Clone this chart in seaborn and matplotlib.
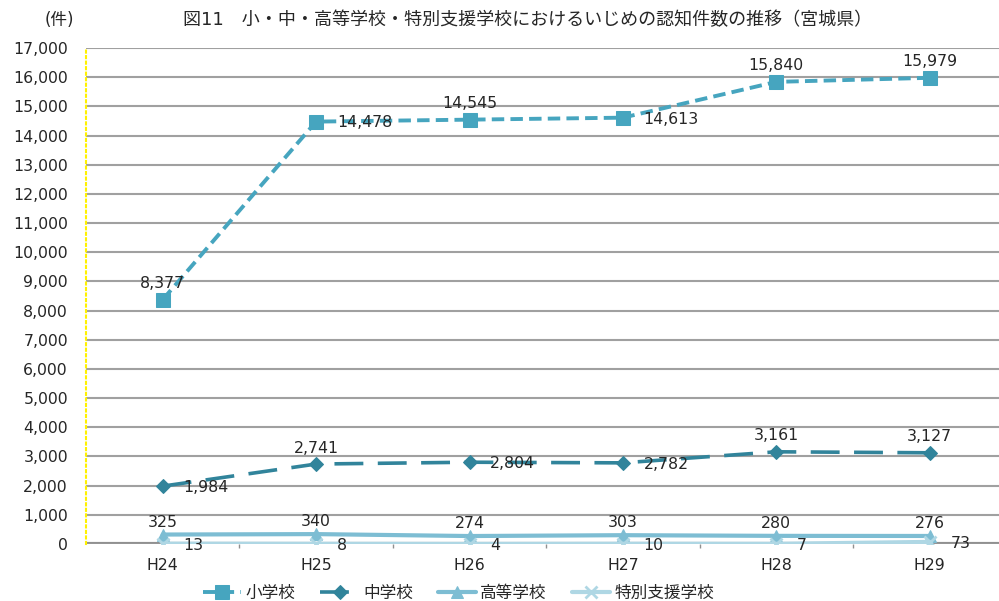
import matplotlib
matplotlib.use("Agg")
import matplotlib.pyplot as plt
import seaborn as sns
import pandas as pd
from matplotlib.ticker import FuncFormatter, MultipleLocator

# data
years = ["H24", "H25", "H26", "H27", "H28", "H29"]
elementary = [8377, 14478, 14545, 14613, 15840, 15979]
junior_high = [1984, 2741, 2804, 2782, 3161, 3127]
high_school = [325, 340, 274, 303, 280, 276]
special_support = [13, 8, 4, 10, 7, 73]

series_names = ["小学校", "中学校", "高等学校", "特別支援学校"]
series_values = [elementary, junior_high, high_school, special_support]

# label placement per series / point ('a' = above, 'r' = right)
label_pos = [
    ["a", "r", "a", "r", "a", "a"],
    ["r", "a", "r", "r", "a", "a"],
    ["a", "a", "a", "a", "a", "a"],
    ["r", "r", "r", "r", "r", "r"],
]
above_offset = [11.5, 11.5, 9, 9]

styles = {
    "小学校": dict(color="#46A5BF", marker="s", markersize=10, linewidth=2.8,
                  linestyle=(0, (3.2, 1.6))),
    "中学校": dict(color="#31849B", marker="D", markersize=7, linewidth=2.6,
                  linestyle=(0, (8, 4))),
    "高等学校": dict(color="#7DBDD3", marker="^", markersize=9, linewidth=3.0,
                    linestyle="-"),
    "特別支援学校": dict(color="#AFD7E4", marker="x", markersize=9, linewidth=3.0,
                      linestyle="-", markeredgewidth=2),
}

sns.set_style("white")
plt.rcParams["font.family"] = ["DejaVu Sans", "Noto Sans CJK JP"]

fig = plt.figure(figsize=(9.99, 6.01), dpi=100)
ax = fig.add_axes([0.0861, 0.0948, 0.9213, 0.8253])

x_idx = list(range(len(years)))
handles = []
for k, (name, vals, pos) in enumerate(zip(series_names, series_values, label_pos)):
    df = pd.DataFrame({"year": x_idx, "count": vals})
    st = styles[name]
    sns.lineplot(data=df, x="year", y="count", ax=ax, markeredgecolor=st["color"],
                 zorder=3, **st)
    handles.append(ax.lines[-1])
    for xi, v, p in zip(x_idx, vals, pos):
        if p == "a":
            ax.annotate(f"{v:,}", (xi, v), xytext=(0, above_offset[k]),
                        textcoords="offset points", ha="center", va="center",
                        fontsize=11.3, color="#262626", zorder=5)
        else:
            ax.annotate(f"{v:,}", (xi, v), xytext=(15, -1), textcoords="offset points",
                        ha="left", va="center", fontsize=11.3, color="#262626",
                        zorder=5)

ax.set_xlim(-0.5, len(years) - 0.5)
ax.set_ylim(0, 17000)
ax.set_xticks(x_idx)
ax.set_xticklabels(years)
ax.set_xticks([i + 0.5 for i in x_idx[:-1]], minor=True)
ax.yaxis.set_major_locator(MultipleLocator(1000))
ax.yaxis.set_major_formatter(FuncFormatter(lambda v, _: f"{int(v):,}"))
ax.set_xlabel("")
ax.set_ylabel("")

ax.grid(axis="y", color="#A0A0A0", linewidth=1.5, zorder=0)
ax.axhline(0, color="#909090", linewidth=3, zorder=1)
ax.axhline(0, color="white", linewidth=0.8, zorder=1)
for s in ["top", "right", "bottom"]:
    ax.spines[s].set_visible(False)
ax.spines["left"].set_color("#FFF200")
ax.spines["left"].set_linestyle(":")
ax.spines["left"].set_linewidth(1.5)

ax.tick_params(axis="y", which="major", length=5, width=1.2, color="#FFF200",
               labelsize=11.3, labelcolor="#262626", pad=8)
ax.tick_params(axis="x", which="major", length=0, labelsize=11.3,
               labelcolor="#262626", pad=10)
ax.tick_params(axis="x", which="minor", length=3, width=1, color="#909090",
               direction="out", bottom=True)

fig.text(0.045, 0.966, "(件)", fontsize=12, color="#262626", ha="left", va="center")
fig.text(0.528, 0.966,
         "図11　小・中・高等学校・特別支援学校におけるいじめの認知件数の推移（宮城県）",
         fontsize=13, color="#262626", ha="center", va="center")

fig.legend(handles, series_names, loc="center", bbox_to_anchor=(0.459, 0.013),
           ncol=4, frameon=False, fontsize=12, handlelength=2.3,
           columnspacing=1.5, handletextpad=0.25, labelcolor="#262626")

fig.savefig("out.png", dpi=100)
